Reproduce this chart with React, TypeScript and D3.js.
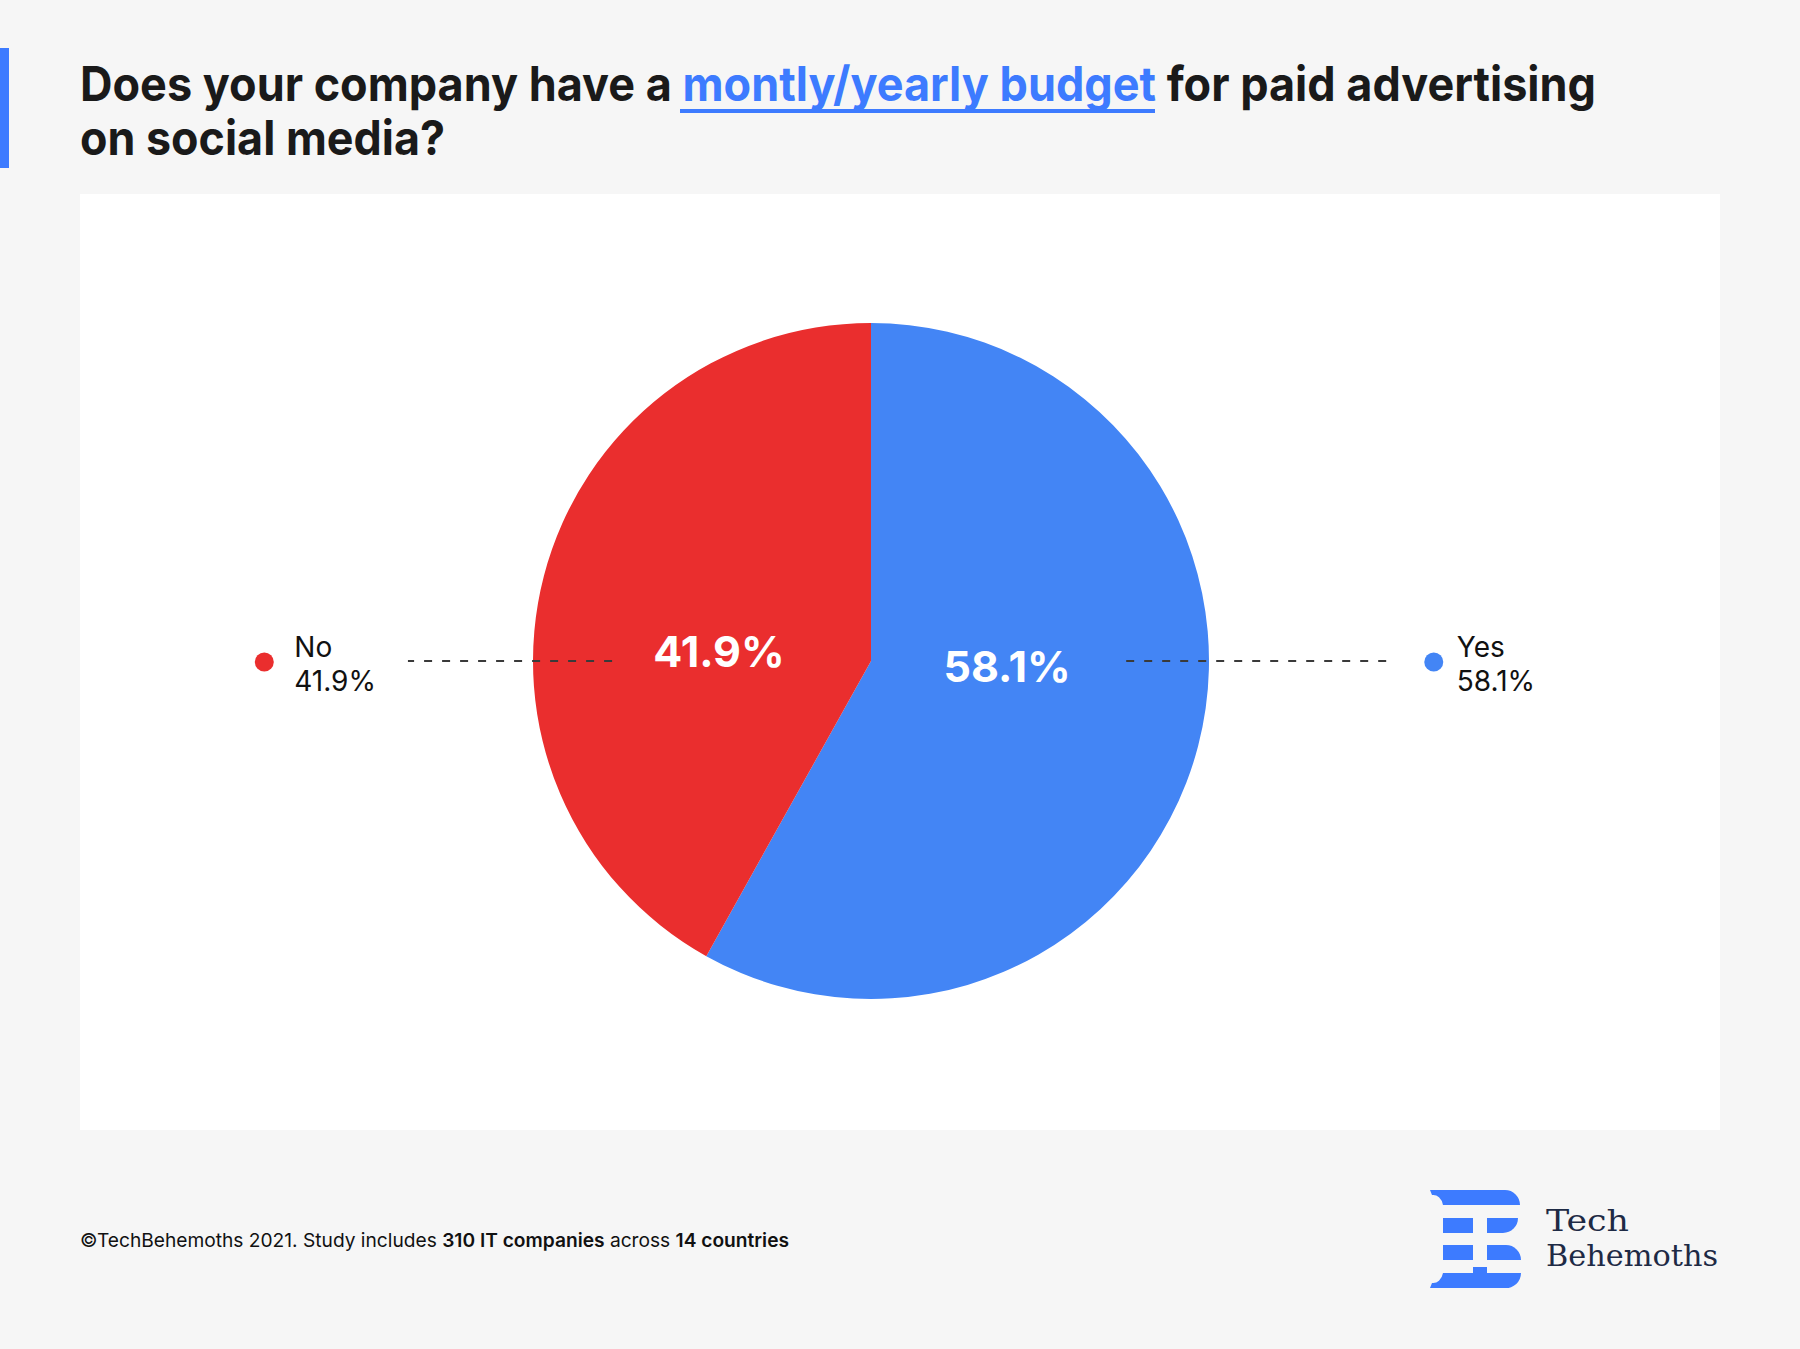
import React, { useEffect } from "react";
import * as d3 from "d3";

const categories = ["Yes", "No"];
const values = [58.1, 41.9];
const sliceColors = ["#4385F5", "#EA2E2E"];
const titleLine1Parts = [
  { text: "Does your company have a ", highlight: false },
  { text: "montly/yearly budget", highlight: true },
  { text: " for paid advertising", highlight: false },
];
const titleLine2 = "on social media?";
const footerParts = [
  { text: "©TechBehemoths 2021. Study includes ", bold: false },
  { text: "310 IT companies", bold: true },
  { text: " across ", bold: false },
  { text: "14 countries", bold: true },
];

const W = 1800;
const H = 1349;
const BLUE = "#3D7BFF";

export default function App() {
  useEffect(() => {
    document.body.style.margin = "0";
  }, []);

  const cx = 871;
  const cy = 661;
  const R = 338;
  const pie = d3.pie<number>().sort(null).value((d) => d);
  const arcs = pie(values);
  const arc = d3.arc<d3.PieArcDatum<number>>().innerRadius(0).outerRadius(R);
  const fmt = (v: number) => d3.format(".1f")(v) + "%";

  const layout: Record<string, { labelR: number; lineIn: number; lineOut: number; dotX: number; dy: number; textDx: number }> = {
    Yes: { labelR: 0.416, lineIn: 0.755, lineOut: 1.535, dotX: 1.665, dy: 5, textDx: 23 },
    No: { labelR: 0.465, lineIn: 0.766, lineOut: 1.37, dotX: 1.795, dy: -10, textDx: 30 },
  };

  return (
    <div style={{ position: "absolute", left: 0, top: 0 }}>
      <svg width={W} height={H} style={{ display: "block" }} fontFamily="Inter, 'Noto Sans', sans-serif">
        <rect x={0} y={0} width={W} height={H} fill="#F6F6F6" />
        <rect x={0} y={48} width={9} height={120} fill={BLUE} />

        {/* Title */}
        <text x={80} y={101} fontSize={48} fontWeight={700} fill="#1A1A1A" textLength={1516} lengthAdjust="spacingAndGlyphs">
          {titleLine1Parts.map((p, i) => (
            <tspan key={i} fill={p.highlight ? BLUE : "#1A1A1A"}>
              {p.text}
            </tspan>
          ))}
        </text>
        <rect x={680} y={109} width={475} height={4} fill={BLUE} />
        <text x={80} y={155} fontSize={48} fontWeight={700} fill="#1A1A1A" textLength={365} lengthAdjust="spacingAndGlyphs">
          {titleLine2}
        </text>

        {/* Panel */}
        <rect x={80} y={194} width={1640} height={936} fill="#FFFFFF" />

        {/* Pie */}
        <g transform={`translate(${cx},${cy})`}>
          {arcs.map((a, i) => (
            <path key={categories[i]} d={arc(a) || ""} fill={sliceColors[i]} />
          ))}
          {arcs.map((a, i) => {
            const L = layout[categories[i]];
            const la = d3.arc<d3.PieArcDatum<number>>().innerRadius(R * L.labelR).outerRadius(R * L.labelR);
            const [lx] = la.centroid(a);
            return (
              <text
                key={"l" + i}
                x={lx}
                y={L.dy}
                fill="#FFFFFF"
                fontSize={43}
                fontWeight={700}
                textAnchor="middle"
                dominantBaseline="central"
              >
                {fmt(values[i])}
              </text>
            );
          })}
          {arcs.map((a, i) => {
            const mid = (a.startAngle + a.endAngle) / 2;
            const side = Math.sin(mid) >= 0 ? 1 : -1;
            const L = layout[categories[i]];
            return (
              <line
                key={"dl" + i}
                x1={side * R * L.lineIn}
                x2={side * R * L.lineOut}
                y1={0}
                y2={0}
                stroke="#3A3A3A"
                strokeWidth={2.2}
                strokeDasharray="8 10"
              />
            );
          })}
          {arcs.map((a, i) => {
            const mid = (a.startAngle + a.endAngle) / 2;
            const side = Math.sin(mid) >= 0 ? 1 : -1;
            const L = layout[categories[i]];
            const dx = side * R * L.dotX;
            return (
              <g key={"lg" + i} transform={`translate(${dx},0)`}>
                <circle cx={0} cy={1} r={9.5} fill={sliceColors[i]} />
                <text x={L.textDx} y={-4} fontSize={28} fill="#111111">
                  {categories[i]}
                </text>
                <text x={L.textDx} y={30} fontSize={28} fill="#111111">
                  {fmt(values[i])}
                </text>
              </g>
            );
          })}
        </g>

        {/* Footer */}
        <text x={80} y={1247} fontSize={19} fill="#111111" textLength={709} lengthAdjust="spacingAndGlyphs">
          {footerParts.map((p, i) => (
            <tspan key={i} fontWeight={p.bold ? 600 : 400}>
              {p.text}
            </tspan>
          ))}
        </text>

        {/* Logo */}
        <g fill={BLUE}>
          <path d="M1430,1190 H1505 A15,15 0 0 1 1520,1205 H1443 A10,13 0 0 0 1432,1195 Z" />
          <rect x={1443} y={1218} width={30} height={15} />
          <path d="M1487,1218 H1518 A15,15 0 0 1 1503,1233 H1487 Z" />
          <rect x={1443} y={1245} width={30} height={15} />
          <path d="M1487,1245 H1506 A15,15 0 0 1 1521,1260 H1487 Z" />
          <path d="M1430,1288 H1505 A15,15 0 0 0 1521,1273 H1487 V1267 H1473 V1273 H1443 A10,13 0 0 1 1432,1283 Z" />
        </g>
        <text x={1546} y={1231} fontFamily="'DejaVu Serif', 'Liberation Serif', serif" fontSize={30} fill="#1E2A45" textLength={83} lengthAdjust="spacingAndGlyphs">
          Tech
        </text>
        <text x={1546} y={1266} fontFamily="'DejaVu Serif', 'Liberation Serif', serif" fontSize={30} fill="#1E2A45" textLength={172} lengthAdjust="spacingAndGlyphs">
          Behemoths
        </text>
      </svg>
    </div>
  );
}
